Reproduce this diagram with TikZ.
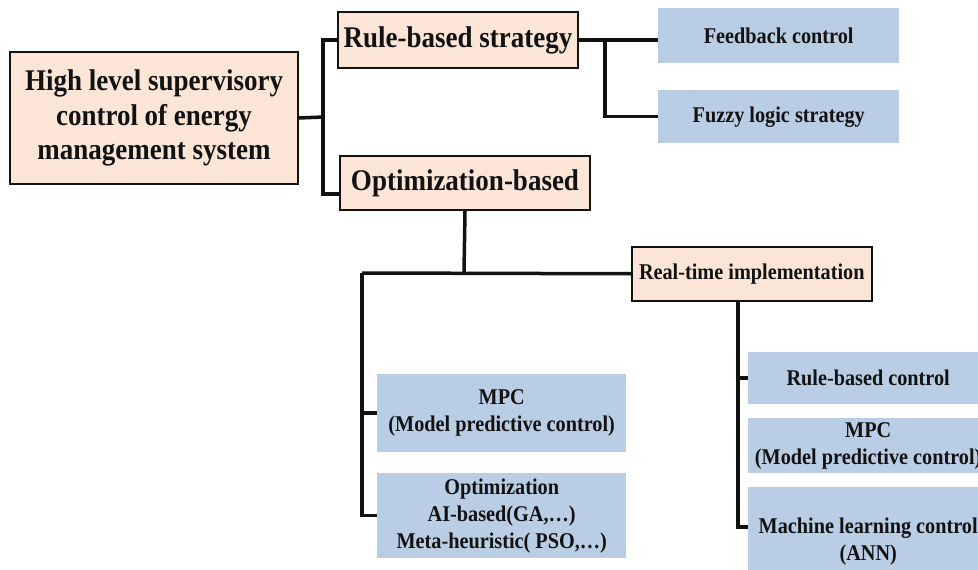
\documentclass[tikz,border=0pt]{standalone}
\usepackage{fontspec}
\setmainfont{Liberation Serif}[FakeStretch=0.9]
\definecolor{peach}{HTML}{FBE5D6}
\definecolor{bluefill}{HTML}{B9CDE5}
\definecolor{ink}{HTML}{121212}
\tikzset{
  peachbox/.style={draw=ink, line width=2pt, fill=peach, anchor=north west, inner sep=0pt, align=center, text=ink},
  bluebox/.style={fill=bluefill, anchor=north west, inner sep=0pt, align=center, text=ink},
  bigtxt/.style={font=\fontsize{30}{34.5}\selectfont\bfseries},
  smalltxt/.style={font=\fontsize{22.5}{27}\selectfont\bfseries},
  conn/.style={line width=3.5pt, draw=ink}
}
\begin{document}
\begin{tikzpicture}[x=1pt, y=-1pt]
\useasboundingbox (0,0) rectangle (978,570);
\fill[white] (0,0) rectangle (978,570);
\clip (0,0) rectangle (978,570);

% top level
\node[peachbox, bigtxt, minimum width=288pt, minimum height=132pt] (main) at (9,51)
  {High level supervisory\\control of energy\\management system};
\node[peachbox, bigtxt, minimum width=240pt, minimum height=56pt] (rbs) at (337,11) {Rule-based strategy};
\node[peachbox, bigtxt, minimum width=250pt, minimum height=54pt] (optb) at (339,155) {Optimization-based};

% rule-based children
\node[bluebox, smalltxt, minimum width=241pt, minimum height=55pt] (fb) at (658,8) {Feedback control};
\node[bluebox, smalltxt, minimum width=241pt, minimum height=53pt] (fz) at (658,90) {Fuzzy logic strategy};

% optimization children
\node[peachbox, smalltxt, line width=1.5pt, minimum width=240pt, minimum height=54pt] (rt) at (631,246) {Real-time implementation};
\node[bluebox, smalltxt, minimum width=249pt, minimum height=78pt] (mpcl) at (377,374) {MPC\\(Model predictive control)};
\node[bluebox, smalltxt, minimum width=249pt, minimum height=85pt] (opt2) at (377,473) {Optimization\\AI-based(GA,…)\\Meta-heuristic( PSO,…)};

% real-time children
\node[bluebox, smalltxt, minimum width=240pt, minimum height=52pt] (rbc) at (748,352) {Rule-based control};
\node[bluebox, smalltxt, minimum width=240pt, minimum height=55pt] (mpcr) at (748,418) {MPC\\(Model predictive control)};
\node[bluebox, smalltxt, minimum width=240pt, minimum height=108pt] (ml) at (748,487) {Machine learning control\\(ANN)};

% junctions
\coordinate (jA) at (323,117);
\coordinate (jB) at (605,39);
\coordinate (jC) at (464,273);
\coordinate (jD) at (362,273);
\coordinate (jE) at (738,300);

% connectors
\draw[conn] (main.east) -- (jA);
\draw[conn] (rbs.west) -| (jA);
\draw[conn] (jA) |- ([yshift=-11pt]optb.west);

\draw[conn] (rbs.east) -- (rbs.east -| fb.west);
\draw[conn] (jB) |- (fz.west);

\draw[conn] (optb.south) -- (jC);
\draw[conn] (rt.west) -- (jD);
\draw[conn] (jD) |- (mpcl.west);
\draw[conn] (jD) |- (opt2.west);

\draw[conn] (jE) |- (rbc.west);
\draw[conn] (jE) |- ([yshift=14pt]ml.west);
\end{tikzpicture}
\end{document}
